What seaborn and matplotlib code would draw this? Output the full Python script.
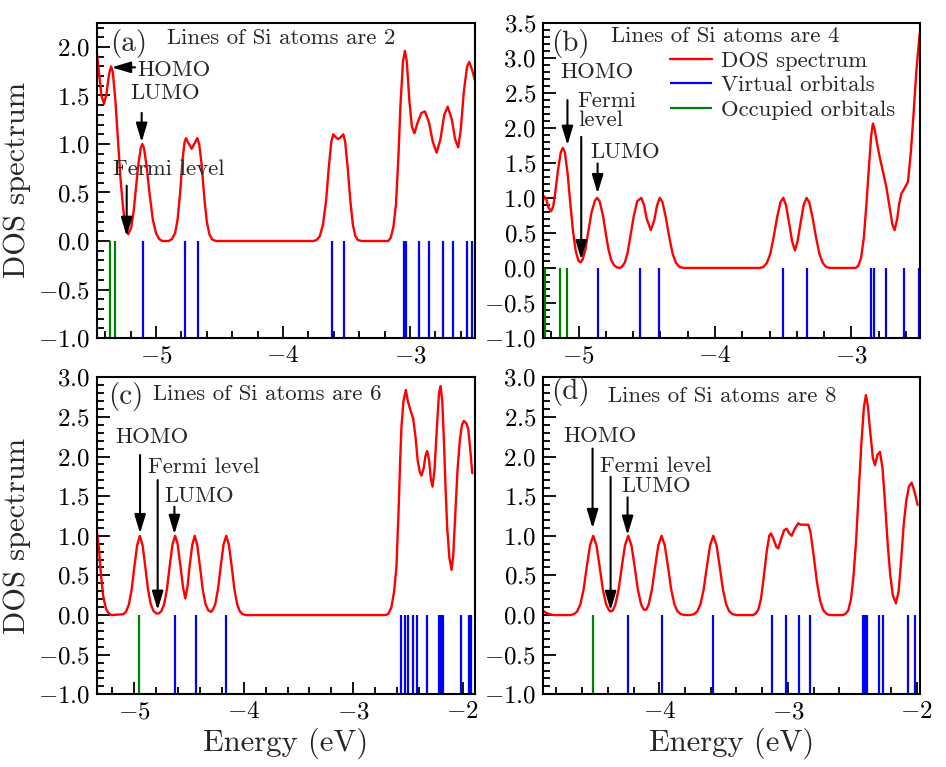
import matplotlib
matplotlib.use("Agg")
import matplotlib.pyplot as plt
import seaborn as sns
from matplotlib.ticker import MultipleLocator

# ---------------- data ----------------
a_energy = [-5.465, -5.45, -5.43, -5.409, -5.39, -5.37, -5.354, -5.34, -5.32, -5.30,
            -5.28, -5.26, -5.24, -5.218, -5.195, -5.175, -5.16, -5.14, -5.12, -5.108,
            -5.095, -5.075, -5.05, -5.025, -5.00, -4.975, -4.95, -4.90, -4.875, -4.85,
            -4.83, -4.81, -4.79, -4.775, -4.764, -4.745, -4.719, -4.695, -4.675, -4.66,
            -4.64, -4.62, -4.60, -4.58, -4.56, -4.54, -4.52,
            -3.76, -3.735, -3.71, -3.685, -3.66, -3.64, -3.62, -3.604, -3.585, -3.565,
            -3.545, -3.525, -3.51, -3.49, -3.47, -3.45, -3.43, -3.41, -3.38,
            -3.17, -3.15, -3.13, -3.11, -3.09, -3.075, -3.055, -3.04, -3.025, -3.005,
            -2.985, -2.965, -2.94, -2.91, -2.882, -2.85, -2.82, -2.79, -2.76, -2.73,
            -2.703, -2.67, -2.645, -2.62, -2.60, -2.575, -2.55, -2.533, -2.51, -2.488]
a_dos = [1.93, 1.75, 1.50, 1.414, 1.52, 1.72, 1.80, 1.74, 1.45, 1.05,
         0.65, 0.35, 0.14, 0.07, 0.14, 0.32, 0.52, 0.78, 0.96, 1.0,
         0.96, 0.78, 0.48, 0.22, 0.08, 0.02, 0.0, 0.0, 0.02, 0.08,
         0.22, 0.50, 0.85, 1.02, 1.06, 1.01, 0.95, 1.01, 1.06, 1.00,
         0.78, 0.45, 0.20, 0.07, 0.02, 0.005, 0.0,
         0.0, 0.01, 0.05, 0.17, 0.42, 0.75, 1.02, 1.10, 1.07, 1.05,
         1.07, 1.10, 1.02, 0.75, 0.42, 0.17, 0.05, 0.01, 0.0,
         0.0, 0.04, 0.15, 0.38, 0.90, 1.40, 1.85, 1.96, 1.85, 1.45,
         1.18, 1.11, 1.22, 1.32, 1.335, 1.22, 1.02, 0.91, 1.05, 1.30,
         1.385, 1.25, 1.05, 0.965, 1.15, 1.55, 1.80, 1.845, 1.76, 1.655]
a_occupied = [-5.362, -5.323]
a_virtual = [-5.105, -4.772, -4.667, -3.617, -3.518, -3.045, -3.031, -2.926,
             -2.848, -2.738, -2.664, -2.554, -2.515]

b_energy = [-5.258, -5.25, -5.235, -5.22, -5.20, -5.185, -5.17, -5.15, -5.13, -5.115,
            -5.10, -5.08, -5.06, -5.04, -5.02, -5.00, -4.985, -4.97, -4.95, -4.93,
            -4.905, -4.88, -4.863, -4.845, -4.82, -4.80, -4.78, -4.76, -4.74, -4.72,
            -4.70, -4.68, -4.66, -4.64, -4.62, -4.595, -4.57, -4.54, -4.52, -4.50,
            -4.47, -4.445, -4.425, -4.405, -4.385, -4.36, -4.335, -4.31, -4.285, -4.26,
            -4.23,
            -3.67, -3.645, -3.62, -3.595, -3.57, -3.545, -3.52, -3.50, -3.48, -3.455,
            -3.435, -3.414, -3.395, -3.375, -3.35, -3.329, -3.31, -3.285, -3.26, -3.235,
            -3.21, -3.185, -3.16,
            -2.97, -2.95, -2.93, -2.91, -2.89, -2.87, -2.855, -2.843, -2.83, -2.81,
            -2.794, -2.77, -2.745, -2.72, -2.70, -2.684, -2.665, -2.65, -2.635, -2.61,
            -2.586, -2.565, -2.545, -2.525, -2.50]
b_dos = [0.97, 1.02, 0.98, 0.86, 0.81, 0.88, 1.08, 1.40, 1.65, 1.714,
         1.65, 1.35, 0.92, 0.52, 0.24, 0.10, 0.08, 0.12, 0.26, 0.50,
         0.79, 0.96, 1.0, 0.95, 0.74, 0.49, 0.26, 0.11, 0.04, 0.01,
         0.0, 0.02, 0.08, 0.22, 0.45, 0.74, 0.95, 1.0, 0.90, 0.70,
         0.54, 0.68, 0.89, 1.0, 0.94, 0.72, 0.44, 0.20, 0.07, 0.015,
         0.0,
         0.0, 0.015, 0.07, 0.20, 0.44, 0.72, 0.94, 1.0, 0.90, 0.62,
         0.38, 0.25, 0.38, 0.62, 0.90, 1.0, 0.94, 0.72, 0.44, 0.20,
         0.07, 0.015, 0.0,
         0.0, 0.03, 0.14, 0.42, 0.92, 1.50, 1.90, 2.06, 1.98, 1.75,
         1.59, 1.38, 1.16, 0.86, 0.62, 0.54, 0.70, 0.92, 1.06, 1.14,
         1.23, 1.65, 2.20, 2.80, 3.35]
b_occupied = [-5.248, -5.135, -5.081]
b_virtual = [-4.860, -4.547, -4.407, -3.500, -3.326, -2.855, -2.836, -2.750,
             -2.618, -2.505]

c_energy = [-5.342, -5.325, -5.305, -5.285, -5.26, -5.235, -5.21, -5.10, -5.075, -5.05,
            -5.025, -5.00, -4.975, -4.95, -4.925, -4.90, -4.875, -4.85, -4.825, -4.80,
            -4.79, -4.777, -4.752, -4.727, -4.702, -4.677, -4.652, -4.627, -4.605, -4.58,
            -4.555, -4.535, -4.515, -4.495, -4.47, -4.448, -4.425, -4.40, -4.375, -4.35,
            -4.325, -4.30, -4.285, -4.26, -4.235, -4.21, -4.185, -4.16, -4.135, -4.11,
            -4.085, -4.06, -4.035, -4.01, -3.98,
            -2.70, -2.675, -2.65, -2.625, -2.604, -2.585, -2.57, -2.558, -2.54, -2.518,
            -2.50, -2.475, -2.451, -2.43, -2.41, -2.39, -2.375, -2.355, -2.34, -2.323,
            -2.305, -2.29, -2.274, -2.255, -2.235, -2.215, -2.201, -2.185, -2.17, -2.155,
            -2.14, -2.12, -2.10, -2.085, -2.065, -2.045, -2.024, -2.005, -1.988, -1.965,
            -1.948, -1.93, -1.911]
c_dos = [1.05, 0.85, 0.50, 0.24, 0.08, 0.02, 0.0, 0.01, 0.044, 0.135,
         0.32, 0.61, 0.88, 1.0, 0.88, 0.61, 0.32, 0.135, 0.05, 0.02,
         0.02, 0.02, 0.05, 0.14, 0.33, 0.62, 0.89, 1.0, 0.90, 0.63,
         0.35, 0.21, 0.35, 0.62, 0.89, 1.0, 0.88, 0.61, 0.32, 0.14,
         0.06, 0.04, 0.06, 0.14, 0.33, 0.62, 0.89, 1.0, 0.88, 0.61,
         0.32, 0.135, 0.044, 0.01, 0.0,
         0.0, 0.02, 0.10, 0.30, 0.61, 1.30, 1.95, 2.38, 2.70, 2.84,
         2.70, 2.58, 2.48, 2.25, 1.95, 1.80, 1.76, 1.85, 2.0, 2.07,
         1.95, 1.72, 1.62, 1.85, 2.35, 2.80, 2.89, 2.70, 2.20, 1.60,
         1.10, 0.72, 0.57, 0.75, 1.30, 1.85, 2.21, 2.40, 2.45, 2.42,
         2.35, 2.10, 1.79]
c_occupied = [-4.954]
c_virtual = [-4.625, -4.441, -4.160, -2.558, -2.527, -2.497, -2.451, -2.420,
             -2.323, -2.213, -2.198, -2.182, -2.015, -1.939, -1.923]

d_energy = [-4.90, -4.88, -4.85, -4.82, -4.69, -4.663, -4.638, -4.613, -4.588, -4.563,
            -4.538, -4.513, -4.488, -4.463, -4.438, -4.413, -4.39, -4.377, -4.36, -4.341,
            -4.316, -4.291, -4.266, -4.241, -4.216, -4.191, -4.166, -4.141, -4.12, -4.11,
            -4.10, -4.082, -4.057, -4.032, -4.007, -3.982, -3.957, -3.932, -3.907, -3.882,
            -3.857, -3.832, -3.80, -3.76, -3.73, -3.705, -3.68, -3.655, -3.63, -3.605,
            -3.58, -3.555, -3.53, -3.505, -3.48, -3.455, -3.43, -3.40,
            -3.27, -3.25, -3.23, -3.21, -3.19, -3.165, -3.145, -3.132, -3.11, -3.09,
            -3.075, -3.055, -3.03, -3.01, -2.99, -2.971, -2.95, -2.92, -2.90, -2.87,
            -2.842, -2.825, -2.80, -2.775, -2.75, -2.725, -2.70, -2.675,
            -2.57, -2.55, -2.531, -2.51, -2.49, -2.47, -2.45, -2.43, -2.41, -2.394,
            -2.38, -2.36, -2.34, -2.324, -2.305, -2.285, -2.265, -2.245, -2.225, -2.205,
            -2.185, -2.161, -2.14, -2.12, -2.10, -2.08, -2.06, -2.039, -2.02, -1.992]
d_dos = [0.05, 0.03, 0.01, 0.0, 0.0, 0.011, 0.044, 0.135, 0.32, 0.61,
         0.88, 1.0, 0.88, 0.61, 0.32, 0.135, 0.06, 0.045, 0.06, 0.135,
         0.32, 0.61, 0.88, 1.0, 0.88, 0.61, 0.32, 0.135, 0.07, 0.065,
         0.07, 0.135, 0.32, 0.61, 0.88, 1.0, 0.88, 0.61, 0.32, 0.135,
         0.044, 0.011, 0.0, 0.0, 0.011, 0.044, 0.135, 0.32, 0.61, 0.88,
         1.0, 0.88, 0.61, 0.32, 0.135, 0.044, 0.011, 0.0,
         0.0, 0.02, 0.07, 0.20, 0.45, 0.80, 1.0, 1.03, 0.95, 0.86,
         0.84, 0.95, 1.07, 1.09, 1.03, 1.0, 1.08, 1.157, 1.14, 1.14,
         1.14, 1.05, 0.75, 0.42, 0.18, 0.06, 0.015, 0.0,
         0.0, 0.02, 0.06, 0.20, 0.50, 0.95, 1.55, 2.15, 2.62, 2.776,
         2.65, 2.30, 1.98, 1.89, 2.02, 2.06, 1.85, 1.40, 0.90, 0.50,
         0.25, 0.147, 0.30, 0.70, 1.15, 1.45, 1.62, 1.67, 1.58, 1.39]
d_occupied = [-4.518]
d_virtual = [-4.246, -3.981, -3.585, -3.127, -3.016, -2.917, -2.829, -2.415,
             -2.399, -2.384, -2.291, -2.264, -2.065, -2.013]

panel_letters = ["(a)", "(b)", "(c)", "(d)"]
panel_titles = ["Lines of Si atoms are 2", "Lines of Si atoms are 4",
                "Lines of Si atoms are 6", "Lines of Si atoms are 8"]
legend_labels = ["DOS spectrum", "Virtual orbitals", "Occupied orbitals"]
x_label = "Energy (eV)"
y_label = "DOS spectrum"

# ---------------- style ----------------
sns.set_style("ticks")
plt.rcParams.update({
    "font.family": ["serif"],
    "font.serif": ["cmr10", "DejaVu Serif"],
    "mathtext.fontset": "cm",
    "axes.formatter.use_mathtext": True,
    "axes.unicode_minus": True,
    "axes.edgecolor": "black",
    "axes.linewidth": 1.5,
    "xtick.color": "black",
    "ytick.color": "black",
})

TICK_FS = 18
TEXT_FS = 16.4
LETTER_FS = 21
LABEL_FS = 22

fig = plt.figure(figsize=(9.46, 7.67), dpi=100)
ax_a = fig.add_axes([0.1025, 0.5593, 0.3996, 0.4111])
ax_b = fig.add_axes([0.5743, 0.5593, 0.3982, 0.4111])
ax_c = fig.add_axes([0.1025, 0.0948, 0.3996, 0.4133])
ax_d = fig.add_axes([0.5743, 0.0948, 0.3982, 0.4133])


def arrow(ax, tail, tip):
    ax.annotate("", xy=tip, xytext=tail,
                arrowprops=dict(arrowstyle="-|>,head_length=0.6,head_width=0.18",
                                mutation_scale=19, color="black", lw=1.5,
                                shrinkA=0, shrinkB=0))


def panel(ax, energy, dos, occ, virt, xlim, ylim):
    sns.lineplot(x=energy, y=dos, ax=ax, color="#ff0000", lw=1.7, sort=False,
                 estimator=None, label=legend_labels[0])
    ax.vlines(virt, -1, 0, colors="#0000ff", lw=1.6, label=legend_labels[1])
    ax.vlines(occ, -1, 0, colors="#008000", lw=1.6, label=legend_labels[2])
    ax.set_xlim(*xlim)
    ax.set_ylim(*ylim)
    ax.xaxis.set_major_locator(MultipleLocator(1))
    ax.xaxis.set_minor_locator(MultipleLocator(0.2))
    ax.yaxis.set_major_locator(MultipleLocator(0.5))
    ax.yaxis.set_minor_locator(MultipleLocator(0.1))
    ax.tick_params(which="both", direction="in", top=False, right=False,
                   labelsize=TICK_FS, width=1.3)
    ax.tick_params(which="major", length=9, pad=5)
    ax.tick_params(which="minor", length=5)
    ax.set_xlabel("")
    ax.set_ylabel("")
    for s in ax.spines.values():
        s.set_visible(True)
        s.set_linewidth(1.5)
    lg = ax.get_legend()
    if lg is not None:
        lg.remove()


panel(ax_a, a_energy, a_dos, a_occupied, a_virtual, (-5.465, -2.488), (-1, 2.25))
panel(ax_b, b_energy, b_dos, b_occupied, b_virtual, (-5.258, -2.498), (-1, 3.5))
panel(ax_c, c_energy, c_dos, c_occupied, c_virtual, (-5.342, -1.886), (-1, 3.0))
panel(ax_d, d_energy, d_dos, d_occupied, d_virtual, (-4.901, -1.974), (-1, 3.0))

# ---- panel (a) texts
ax_a.text(-5.365, 2.04, panel_letters[0], fontsize=LETTER_FS, va="center", ha="left")
ax_a.text(-4.911, 2.09, panel_titles[0], fontsize=TEXT_FS, va="center", ha="left")
ax_a.text(-5.147, 1.759, "HOMO", fontsize=TEXT_FS, va="center", ha="left")
arrow(ax_a, (-5.165, 1.79), (-5.349, 1.79))
ax_a.text(-5.199, 1.521, "LUMO", fontsize=TEXT_FS, va="center", ha="left")
arrow(ax_a, (-5.113, 1.32), (-5.113, 1.02))
ax_a.text(-5.341, 0.735, "Fermi level", fontsize=TEXT_FS, va="center", ha="left")
arrow(ax_a, (-5.231, 0.57), (-5.231, 0.05))

# ---- panel (b) texts
ax_b.text(-5.199, 3.21, panel_letters[1], fontsize=LETTER_FS, va="center", ha="left")
ax_b.text(-4.76, 3.30, panel_titles[1], fontsize=TEXT_FS, va="center", ha="left")
ax_b.text(-5.135, 2.786, "HOMO", fontsize=TEXT_FS, va="center", ha="left")
arrow(ax_b, (-5.081, 2.396), (-5.081, 1.753))
ax_b.text(-5.005, 2.24, "Fermi\nlevel", fontsize=TEXT_FS, va="center", ha="left",
          linespacing=0.95)
arrow(ax_b, (-4.98, 1.871), (-4.98, 0.12))
ax_b.text(-4.914, 1.657, "LUMO", fontsize=TEXT_FS, va="center", ha="left")
arrow(ax_b, (-4.86, 1.491), (-4.86, 1.063))
handles, labels = ax_b.get_legend_handles_labels()
ax_b.legend(handles, labels, loc="upper left", bbox_to_anchor=(0.336, 0.91),
            frameon=False, fontsize=TEXT_FS, borderpad=0, borderaxespad=0,
            handlelength=1.85, handletextpad=0.4, labelspacing=0.19)

# ---- panel (c) texts
ax_c.text(-5.238, 2.755, panel_letters[2], fontsize=LETTER_FS, va="center", ha="left")
ax_c.text(-4.832, 2.785, panel_titles[2], fontsize=TEXT_FS, va="center", ha="left")
ax_c.text(-5.174, 2.242, "HOMO", fontsize=TEXT_FS, va="center", ha="left")
arrow(ax_c, (-4.948, 2.019), (-4.948, 1.03))
ax_c.text(-4.878, 1.871, "Fermi level", fontsize=TEXT_FS, va="center", ha="left")
arrow(ax_c, (-4.787, 1.703), (-4.787, 0.063))
ax_c.text(-4.725, 1.50, "LUMO", fontsize=TEXT_FS, va="center", ha="left")
arrow(ax_c, (-4.634, 1.367), (-4.634, 1.02))

# ---- panel (d) texts
ax_d.text(-4.839, 2.826, panel_letters[3], fontsize=LETTER_FS, va="center", ha="left")
ax_d.text(-4.396, 2.755, panel_titles[3], fontsize=TEXT_FS, va="center", ha="left")
ax_d.text(-4.746, 2.259, "HOMO", fontsize=TEXT_FS, va="center", ha="left")
arrow(ax_d, (-4.518, 2.10), (-4.518, 1.094))
ax_d.text(-4.461, 1.88, "Fermi level", fontsize=TEXT_FS, va="center", ha="left")
arrow(ax_d, (-4.378, 1.745), (-4.378, 0.06))
ax_d.text(-4.292, 1.628, "LUMO", fontsize=TEXT_FS, va="center", ha="left")
arrow(ax_d, (-4.246, 1.485), (-4.246, 1.01))

# ---- axis labels
ax_a.set_ylabel(y_label, fontsize=LABEL_FS, labelpad=5)
ax_c.set_ylabel(y_label, fontsize=LABEL_FS, labelpad=5)
ax_c.set_xlabel(x_label, fontsize=LABEL_FS, labelpad=3)
ax_d.set_xlabel(x_label, fontsize=LABEL_FS, labelpad=3)

fig.savefig("out.png", dpi=100)
